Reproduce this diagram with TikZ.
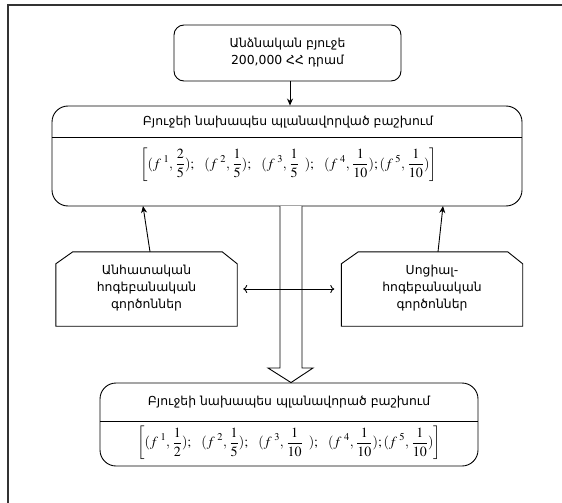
\documentclass[tikz,border=0pt]{standalone}
\usepackage{mathptmx}
\usepackage[no-math]{fontspec}
\setmainfont{DejaVu Sans}
\newfontfamily\armfont{DejaVu Sans}
\usetikzlibrary{arrows.meta,calc}

% one (f^k, share) pair of the distribution
\newcommand{\fpair}[2]{(f^{\hspace{2.5pt}#1},\hspace{1pt}\frac{1}{#2})}
\newcommand{\fsep}{;\hspace{8.5pt}}

\tikzset{
  frameline/.style={line width=1.2pt, draw=black!80},
  box/.style={draw, line width=0.9pt, rounded corners=#1, inner sep=0pt},
  txt/.style={font=\armfont\fontsize{12.4}{17}\selectfont, align=center, inner sep=0pt},
  formula/.style={font=\fontsize{14}{16}\selectfont, inner sep=0pt},
  factor/.style={inner sep=0pt, minimum width=181pt, minimum height=74pt},
  solidarrow/.style={line width=0.9pt, -{Stealth[length=7pt,width=6pt]}},
  twoway/.style={line width=0.9pt, {To[length=4pt,width=8pt]}-{To[length=4pt,width=8pt]}},
  hollow/.style={draw, line width=0.9pt, fill=white},
}

\begin{document}
\begin{tikzpicture}[x=1pt,y=-1pt]
  \useasboundingbox (0,0) rectangle (562,503);
  \fill[white] (0,0) rectangle (562,503);

  % outer frame (only its top and left edges fall inside the page)
  \draw[frameline] (8,600) -- (8,5) -- (600,5);

  % personal budget
  \node[box=10pt, minimum width=227pt, minimum height=56pt] (budget) at (287.5,53) {};
  \node[txt] (budgettxt) at (budget.center) {Անձնական բյուջե\\200,000 ՀՀ դրամ};

  % planned distribution
  \node[box=16pt, minimum width=470pt, minimum height=100pt] (plan) at (287,156) {};
  \coordinate (planL) at (52,137);
  \coordinate (planR) at (522,137);
  \draw[line width=0.9pt] (planL) -- (planR);
  \node[txt] (plantitle) at (288,122) {Բյուջեի նախապես պլանավորված բաշխում};

  % wide hollow arrow from the plan to the revision
  \node[box=16pt, minimum width=378pt, minimum height=83pt] (rev) at (289,424.5) {};
  \draw[hollow] (280,206) -- (280,368) -- (268,368) -- (rev.north -| 291,0)
    -- (313,368) -- (302,368) -- (302,206);

  \node[formula] (planf) at (288.5,164.5)
    {$\displaystyle\left[(f^{\hspace{2.5pt}1},\hspace{1pt}\frac{2}{5})\fsep\fpair{2}{5}\fsep(f^{\hspace{2.5pt}3},\hspace{1pt}\frac{1}{5}\ \,)\fsep\fpair{4}{10};\fpair{5}{10}\right]$};

  % factor boxes with chamfered top corners
  \node[factor] (lbox) at (146.5,289) {};
  \node[factor] (rbox) at (432,289) {};
  \foreach \b in {lbox,rbox}{
    \draw[line width=0.9pt]
      (\b.south west) -- ($(\b.north west)+(0,12)$) -- ($(\b.north west)+(17,0)$)
      -- ($(\b.north east)+(-15,0)$) -- ($(\b.north east)+(0,12)$)
      -- (\b.south east) -- cycle;
  }
  \node[txt] (ltxt) at ($(lbox.center)+(0,-1)$) {Անհատական\\հոգեբանական\\գործոններ};
  \node[txt] (rtxt) at ($(rbox.center)+(0,-1)$) {Սոցիալ-\\հոգեբանական\\գործոններ};

  % revised distribution
  \coordinate (revL) at (100,421);
  \coordinate (revR) at (478,421);
  \draw[line width=0.9pt] (revL) -- (revR);
  \node[txt] (revtitle) at (289,402) {Բյուջեի նախապես պլանավորած բաշխում};
  \node[formula] (revf) at (289,443)
    {$\displaystyle\left[\fpair{1}{2}\fsep\fpair{2}{5}\fsep(f^{\hspace{2.5pt}3},\hspace{1pt}\frac{1}{10}\ \,)\fsep\fpair{4}{10};\fpair{5}{10}\right]$};

  % connectors
  \draw[solidarrow] (budget.south -| 290,0) -- (plan.north -| 290,0);
  \coordinate (lfrom) at ($(lbox.north)+(3.5,0)$);
  \coordinate (lto) at (143,206);
  \coordinate (rfrom) at ($(rbox.north)+(6,0)$);
  \coordinate (rto) at (443,206);
  \draw[solidarrow] (lfrom) -- (lto);
  \draw[solidarrow] (rfrom) -- (rto);
  \draw[twoway] ($(lbox.east)+(6,0)$) -- ($(rbox.west)+(-7,0)$);
\end{tikzpicture}
\end{document}
